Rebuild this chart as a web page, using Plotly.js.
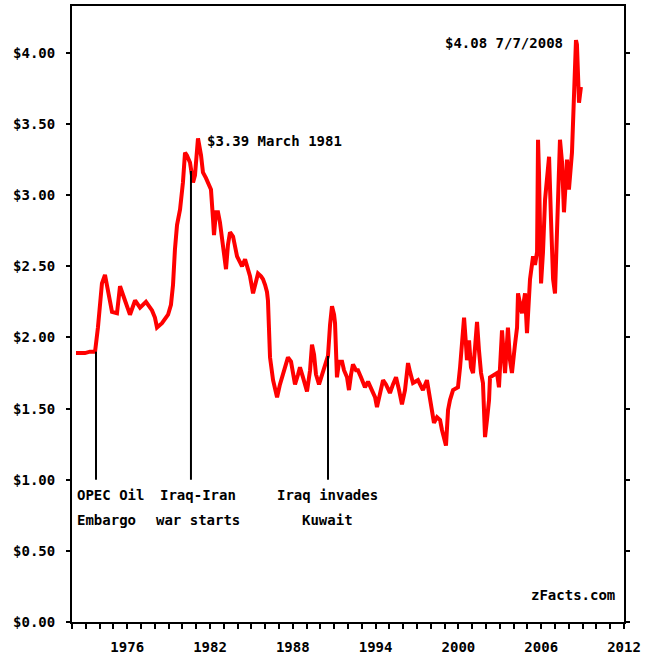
<!DOCTYPE html>
<html>
<head>
<meta charset="utf-8">
<script src="https://cdn.plot.ly/plotly-3.0.1.min.js"></script>
<style>
  html, body { margin: 0; padding: 0; background: #fff; }
  #chart { width: 652px; height: 664px; }
</style>
</head>
<body>
<div id="chart"></div>
<script>
// ---- Data ----
const years = [
  1972.29, 1972.94, 1973.30, 1973.67, 1973.88, 1974.03, 1974.17, 1974.39, 1974.61, 1974.75,
  1974.90, 1975.26, 1975.48, 1975.84, 1976.20, 1976.57, 1976.93, 1977.36, 1977.80, 1978.01,
  1978.16, 1978.52, 1978.96, 1979.17, 1979.32, 1979.46, 1979.61, 1979.83, 1980.04, 1980.19,
  1980.33, 1980.55, 1980.77, 1980.91, 1981.13, 1981.35, 1981.49, 1981.71, 1981.86, 1982.07,
  1982.22, 1982.29, 1982.43, 1982.58, 1982.72, 1982.94, 1983.16, 1983.30, 1983.45, 1983.67,
  1983.96, 1984.17, 1984.32, 1984.54, 1984.75, 1984.90, 1985.12, 1985.33, 1985.48, 1985.70,
  1985.84, 1985.99, 1986.13, 1986.20, 1986.35, 1986.57, 1986.71, 1986.86, 1987.07, 1987.36,
  1987.65, 1987.87, 1988.16, 1988.38, 1988.52, 1988.74, 1989.03, 1989.25, 1989.39, 1989.54,
  1989.68, 1989.90, 1990.12, 1990.33, 1990.55, 1990.70, 1990.84, 1990.99, 1991.06, 1991.20,
  1991.35, 1991.57, 1991.71, 1991.93, 1992.07, 1992.22, 1992.36, 1992.58, 1992.72, 1992.94,
  1993.23, 1993.45, 1993.74, 1993.96, 1994.10, 1994.32, 1994.54, 1994.75, 1995.04, 1995.26,
  1995.48, 1995.70, 1995.91, 1996.13, 1996.35, 1996.49, 1996.71, 1997.07, 1997.22, 1997.43,
  1997.72, 1997.94, 1998.09, 1998.23, 1998.45, 1998.67, 1998.81, 1999.10, 1999.25, 1999.39,
  1999.61, 1999.97, 2000.12, 2000.26, 2000.41, 2000.55, 2000.62, 2000.77, 2000.91, 2001.06,
  2001.20, 2001.35, 2001.49, 2001.64, 2001.78, 2001.93, 2002.07, 2002.22, 2002.29, 2002.58,
  2002.80, 2002.94, 2003.16, 2003.38, 2003.59, 2003.74, 2003.88, 2004.10, 2004.25, 2004.32,
  2004.46, 2004.61, 2004.83, 2004.97, 2005.19, 2005.41, 2005.55, 2005.70, 2005.77, 2005.84,
  2005.99, 2006.13, 2006.28, 2006.42, 2006.57, 2006.71, 2006.86, 2007.00, 2007.14, 2007.29,
  2007.36, 2007.51, 2007.65, 2007.87, 2008.01, 2008.23, 2008.30, 2008.45, 2008.52, 2008.59,
  2008.67, 2008.74, 2008.88
];
const prices = [
  1.89, 1.89, 1.90, 1.90, 2.07, 2.26, 2.38, 2.44, 2.33, 2.23,
  2.18, 2.17, 2.36, 2.26, 2.16, 2.26, 2.21, 2.25, 2.19, 2.14,
  2.07, 2.10, 2.16, 2.23, 2.37, 2.62, 2.79, 2.90, 3.09, 3.30,
  3.28, 3.23, 3.09, 3.14, 3.40, 3.28, 3.16, 3.12, 3.09, 3.04,
  2.83, 2.72, 2.88, 2.88, 2.81, 2.64, 2.48, 2.65, 2.74, 2.71,
  2.57, 2.53, 2.50, 2.55, 2.48, 2.43, 2.31, 2.41, 2.45, 2.43,
  2.41, 2.37, 2.32, 2.26, 1.86, 1.70, 1.63, 1.58, 1.67, 1.77,
  1.86, 1.83, 1.67, 1.74, 1.79, 1.72, 1.62, 1.77, 1.95, 1.88,
  1.74, 1.67, 1.74, 1.79, 1.87, 2.09, 2.22, 2.16, 2.10, 1.72,
  1.83, 1.83, 1.77, 1.72, 1.63, 1.74, 1.81, 1.77, 1.77, 1.72,
  1.65, 1.69, 1.63, 1.58, 1.51, 1.60, 1.70, 1.67, 1.61, 1.67,
  1.72, 1.63, 1.53, 1.63, 1.82, 1.76, 1.68, 1.70, 1.67, 1.63,
  1.70, 1.58, 1.51, 1.40, 1.44, 1.42, 1.35, 1.24, 1.49, 1.56,
  1.63, 1.65, 1.79, 1.96, 2.14, 1.95, 1.84, 1.98, 1.79, 1.75,
  1.98, 2.11, 1.91, 1.75, 1.68, 1.30, 1.42, 1.56, 1.72, 1.74,
  1.75, 1.65, 2.05, 1.75, 2.07, 1.84, 1.75, 1.95, 2.07, 2.31,
  2.23, 2.17, 2.31, 2.03, 2.41, 2.57, 2.51, 2.60, 3.39, 3.16,
  2.38, 2.60, 2.97, 3.16, 3.27, 2.83, 2.41, 2.31, 2.69, 3.18,
  3.39, 3.23, 2.88, 3.25, 3.04, 3.30, 3.48, 3.88, 4.09, 4.06,
  3.83, 3.65, 3.76
];

// Events marked with vertical lines
const eventYears  = [1973.74, 1980.62, 1990.55];
const eventPrices = [1.90, 3.17, 1.87];
const eventLine1  = ["OPEC Oil", "Iraq-Iran", "Iraq invades"];
const eventLine2  = ["Embargo", "war starts", "Kuwait"];

// Axis tick values / labels
const yTickVals   = [0, 0.5, 1, 1.5, 2, 2.5, 3, 3.5, 4];
const yTickText   = ["$0.00", "$0.50", "$1.00", "$1.50", "$2.00", "$2.50", "$3.00", "$3.50", "$4.00"];
const xTickVals   = [1976, 1982, 1988, 1994, 2000, 2006, 2012];
const xTickText   = ["1976", "1982", "1988", "1994", "2000", "2006", "2012"];

// Callouts
const peak1981Text = "$3.39 March 1981";
const peak2008Text = "$4.08 7/7/2008";
const sourceText   = "zFacts.com";

// ---- Build chart ----
const FONT = {family: "'DejaVu Sans Mono', 'Liberation Mono', monospace", size: 14, color: "#000", weight: "bold"};

const traces = [{
  x: years, y: prices, type: "scatter", mode: "lines",
  line: {color: "#ff0000", width: 4}, hoverinfo: "skip"
}];

const shapes = eventYears.map((yr, i) => ({
  type: "line", xref: "x", yref: "y",
  x0: yr, x1: yr, y0: 1.0, y1: eventPrices[i],
  line: {color: "#000", width: 2}
}));

const labelPos = [
  {x: 1972.2, anchor: "left"},
  {x: 1981.12, anchor: "center"},
  {x: 1990.5, anchor: "center"}
];
const annotations = [];
eventLine1.forEach((t, i) => {
  annotations.push({x: labelPos[i].x, y: 0.893, xref: "x", yref: "y", text: t, showarrow: false,
    xanchor: labelPos[i].anchor, yanchor: "middle", font: FONT});
  annotations.push({x: labelPos[i].x, y: 0.717, xref: "x", yref: "y", text: eventLine2[i], showarrow: false,
    xanchor: labelPos[i].anchor, yanchor: "middle", font: FONT});
});
annotations.push({x: 1981.64, y: 3.38, xref: "x", yref: "y", text: peak1981Text, showarrow: false,
  xanchor: "left", yanchor: "middle", font: FONT});
annotations.push({x: 2007.72, y: 4.07, xref: "x", yref: "y", text: peak2008Text, showarrow: false,
  xanchor: "right", yanchor: "middle", font: FONT});
annotations.push({x: 2011.49, y: 0.19, xref: "x", yref: "y", text: sourceText, showarrow: false,
  xanchor: "right", yanchor: "middle", font: FONT});

const layout = {
  width: 652, height: 664,
  margin: {l: 72, r: 28, t: 6, b: 42, pad: 0},
  paper_bgcolor: "#fff", plot_bgcolor: "#fff",
  showlegend: false,
  font: FONT,
  xaxis: {
    range: [1972, 2012], tickmode: "array", tickvals: xTickVals, ticktext: xTickText,
    ticks: "outside", ticklen: 5, tickwidth: 2, tickcolor: "#000",
    minor: {dtick: 1, tick0: 1972, ticks: "outside", ticklen: 5, tickwidth: 2, tickcolor: "#000", showgrid: false},
    showline: true, linecolor: "#000", linewidth: 2, mirror: true,
    showgrid: false, zeroline: false, ticklabelstandoff: 6,
    tickfont: FONT, fixedrange: true
  },
  yaxis: {
    range: [0, 4.33], tickmode: "array", tickvals: yTickVals, ticktext: yTickText,
    ticks: "outside", ticklen: 4, tickwidth: 2, tickcolor: "#000",
    showline: true, linecolor: "#000", linewidth: 2, mirror: "ticks",
    showgrid: false, zeroline: false, ticklabelstandoff: 8,
    tickfont: FONT, fixedrange: true
  },
  shapes: shapes,
  annotations: annotations
};

Plotly.newPlot("chart", traces, layout, {staticPlot: true, displayModeBar: false});
</script>
</body>
</html>
